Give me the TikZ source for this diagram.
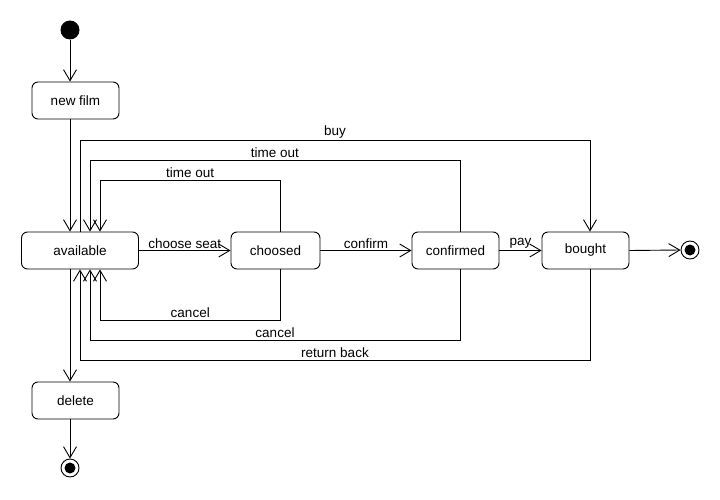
\documentclass[tikz,border=0pt]{standalone}
\usepackage{fontspec}
\setmainfont{Liberation Sans}
\usetikzlibrary{arrows.meta}
\begin{document}
\begin{tikzpicture}[x=1pt,y=-1pt,
  line width=0.9pt,
  state/.style={draw,rounded corners=6pt,minimum height=37pt,inner sep=0pt,font=\fontsize{13.5}{15}\selectfont},
  lbl/.style={font=\fontsize{13.5}{15}\selectfont,inner sep=1.5pt},
  tr/.style={-{Straight Barb[length=11pt,width=13pt,line width=0.9pt]}},
  initst/.style={circle,fill=black,minimum size=19pt,inner sep=0pt},
  finst/.style={circle,draw,fill=white,minimum size=18pt,inner sep=0pt,
    path picture={\fill[black] (path picture bounding box.center) circle[radius=5.5pt];}}]
\useasboundingbox (0,0) rectangle (720,500);
\node[initst] (start) at (70,30) {};
\node[state,minimum width=87pt] (newfilm) at (75.5,100.5) {new film};
\node[state,minimum width=117pt] (available) at (80,250.5) {available};
\node[state,minimum width=89pt] (choosed) at (275.5,250.5) {choosed};
\node[state,minimum width=87pt] (confirmed) at (455.5,250.5) {confirmed};
\node[state,minimum width=87pt] (bought) at (585.5,250.5) {bought};
\node[state,minimum width=87pt] (delete) at (75.5,400.5) {delete};
\node[finst] (end1) at (690,250) {};
\node[finst] (end2) at (70,468) {};
% lanes
\coordinate (lBuy) at (0,140);
\coordinate (lTo2) at (0,160);
\coordinate (lTo1) at (0,180);
\coordinate (lCa1) at (0,320);
\coordinate (lCa2) at (0,340);
\coordinate (lRet) at (0,360);
\coordinate (aN0) at ([xshift=-10pt]available.north);
\coordinate (aN2) at ([xshift=10pt]available.north);
\coordinate (aN3) at ([xshift=20pt]available.north);
\coordinate (aS0) at ([xshift=-10pt]available.south);
\coordinate (aS2) at ([xshift=10pt]available.south);
\coordinate (aS3) at ([xshift=20pt]available.south);
\coordinate (chN) at ([xshift=5pt]choosed.north);
\coordinate (chS) at ([xshift=5pt]choosed.south);
\coordinate (coN) at ([xshift=4.5pt]confirmed.north);
\coordinate (coS) at ([xshift=4.5pt]confirmed.south);
\coordinate (boN) at ([xshift=4.5pt]bought.north);
\coordinate (boS) at ([xshift=4.5pt]bought.south);
% transitions
\draw[tr] (start) -- (start |- newfilm.north);
\draw[tr] (newfilm.south -| aN0) -- (aN0);
\draw[tr] (available.north) -- (available.north |- lBuy) -- node[lbl,above] (lb1) {buy} (boN |- lBuy) -- (boN);
\draw[tr] (coN) -- (coN |- lTo2) -- node[lbl,above] (lb2) {time out} (aN2 |- lTo2) -- (aN2);
\draw[tr] (chN) -- (chN |- lTo1) -- node[lbl,above] (lb3) {time out} (aN3 |- lTo1) -- (aN3);
\draw[tr] (available.east) -- node[lbl,above] (lb4) {choose seat} (choosed.west);
\draw[tr] (choosed.east) -- node[lbl,above] (lb5) {confirm} (confirmed.west);
\draw[tr] (confirmed.east) -- node[lbl,above] (lb6) {pay} (bought.west);
\draw[tr] (bought.east) -- (end1.west);
\draw[tr] (chS) -- (chS |- lCa1) -- node[lbl,above] (lb7) {cancel} (aS3 |- lCa1) -- (aS3);
\draw[tr] (coS) -- (coS |- lCa2) -- node[lbl,above] (lb8) {cancel} (aS2 |- lCa2) -- (aS2);
\draw[tr] (boS) -- (boS |- lRet) -- node[lbl,above] (lb9) {return back} (available.south |- lRet) -- (available.south);
\draw[tr] (aS0) -- (delete.north -| aS0);
\draw[tr] (delete.south -| end2) -- (end2.north);
\end{tikzpicture}
\end{document}
